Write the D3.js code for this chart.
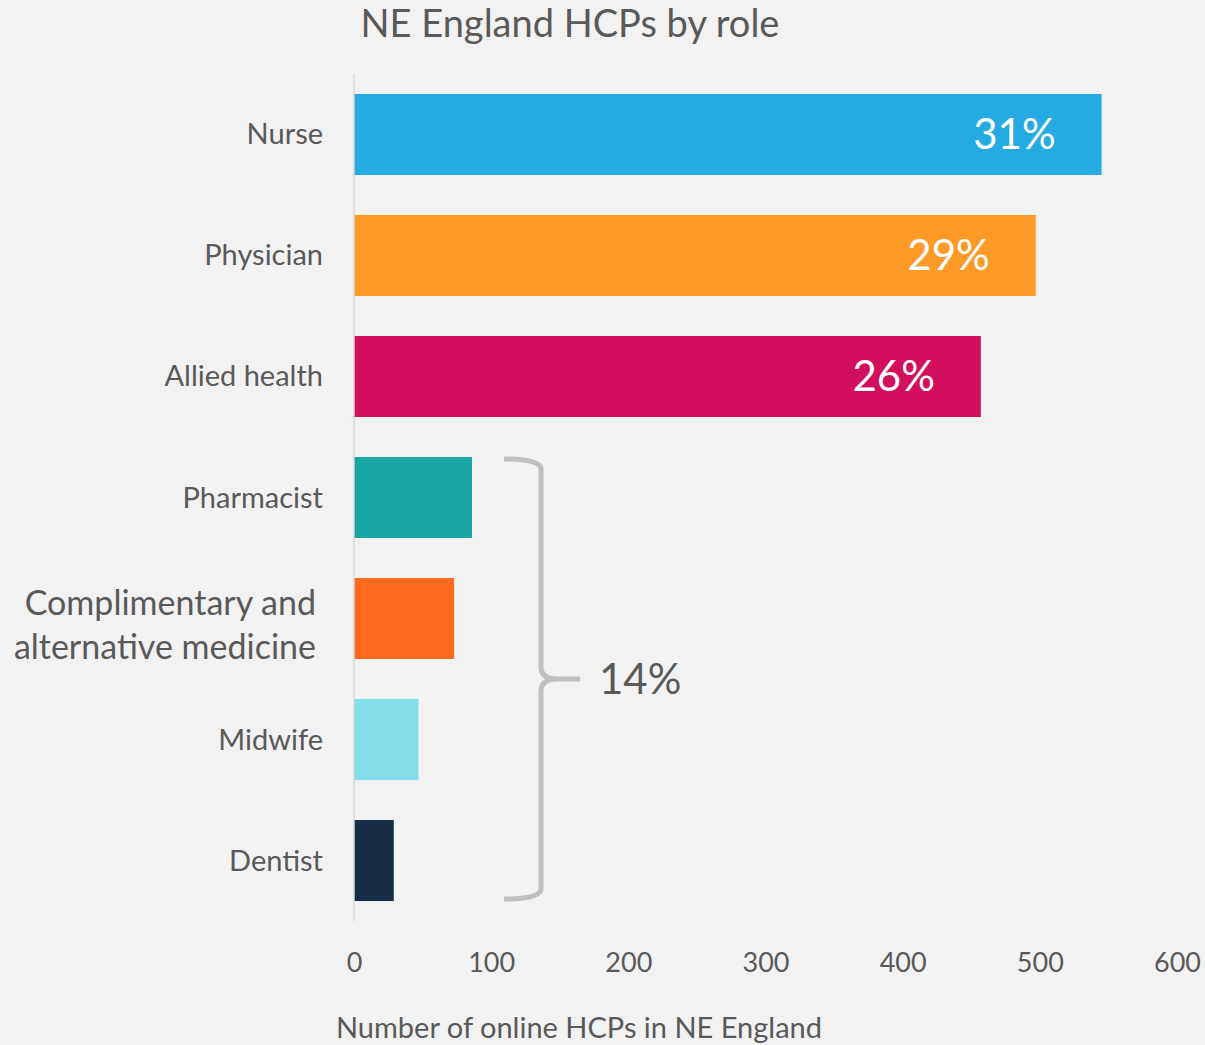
<!DOCTYPE html>
<html>
<head>
<meta charset="utf-8">
<script src="https://cdn.jsdelivr.net/npm/d3@7"></script>
<style>
  html, body { margin: 0; padding: 0; background: #f2f2f2; }
  svg { display: block; font-family: Lato, "Open Sans", sans-serif; }
</style>
</head>
<body>
<svg id="chart" width="1205" height="1045"></svg>
<script>
// Roles, counts of online HCPs and their shares
const roles = ["Nurse", "Physician", "Allied health", "Pharmacist",
  "Complimentary and alternative medicine", "Midwife", "Dentist"];
const counts = [545, 497, 457, 86, 73, 47, 29];
const colors = ["#25aae1", "#fd9a28", "#d10f5d", "#1aa5a5", "#ff6a21", "#84dfeb", "#172d45"];
const shareLabels = ["31%", "29%", "26%", null, null, null, null];
const groupLabel = "14%";
const xTicks = [0, 100, 200, 300, 400, 500, 600];

const svg = d3.select("#chart");
const m = { left: 354, right: 1177, top: 74, bottom: 921 };

const x = d3.scaleLinear().domain([0, 600]).range([m.left, m.right]);
const y = d3.scaleBand().domain(roles).range([m.top, m.bottom])
  .paddingInner(40 / 121).paddingOuter(0.165);

const textCol = "#595959";

// Title
svg.append("text")
  .attr("x", 570).attr("y", 37)
  .attr("text-anchor", "middle")
  .attr("font-size", 38).attr("fill", textCol)
  .text("NE England HCPs by role");

// Bars
svg.selectAll("rect.bar").data(roles).join("rect")
  .attr("class", "bar")
  .attr("x", x(0))
  .attr("y", d => y(d))
  .attr("width", (d, i) => x(counts[i]) - x(0))
  .attr("height", y.bandwidth())
  .attr("fill", (d, i) => colors[i]);

// Share labels inside the top three bars
svg.selectAll("text.share").data(roles.filter((d, i) => shareLabels[i]))
  .join("text")
  .attr("class", "share")
  .attr("x", d => x(counts[roles.indexOf(d)]) - 46)
  .attr("y", d => y(d) + y.bandwidth() / 2 + 15)
  .attr("text-anchor", "end")
  .attr("font-size", 42).attr("fill", "#ffffff")
  .text(d => shareLabels[roles.indexOf(d)]);

// Vertical axis line
svg.append("line")
  .attr("x1", x(0)).attr("x2", x(0))
  .attr("y1", m.top).attr("y2", m.bottom)
  .attr("stroke", "#d9d9d9").attr("stroke-width", 1.5);

// Category labels
roles.forEach((r, i) => {
  const cy = y(r) + y.bandwidth() / 2;
  if (r.startsWith("Complimentary")) {
    const t = svg.append("text")
      .attr("text-anchor", "end").attr("font-size", 34).attr("fill", textCol);
    t.append("tspan").attr("x", 316).attr("y", cy - 4).text("Complimentary and");
    t.append("tspan").attr("x", 316).attr("y", cy + 40).text("alternative medicine");
  } else {
    svg.append("text")
      .attr("x", 323).attr("y", cy + 10)
      .attr("text-anchor", "end").attr("font-size", 29).attr("fill", textCol)
      .text(r);
  }
});

// X axis tick labels
const xAxis = d3.axisBottom(x).tickValues(xTicks).tickSize(0).tickPadding(0);
const gx = svg.append("g").attr("transform", "translate(0,945)").call(xAxis);
gx.select(".domain").remove();
gx.selectAll("text")
  .attr("font-family", "Lato, 'Open Sans', sans-serif")
  .attr("font-size", 27).attr("fill", textCol).attr("dy", "1em");

// X axis title
svg.append("text")
  .attr("x", 579).attr("y", 1038)
  .attr("text-anchor", "middle")
  .attr("font-size", 29).attr("fill", textCol)
  .text("Number of online HCPs in NE England");

// Curly bracket grouping the four smaller roles
const braceTop = y("Pharmacist"), braceBot = y("Dentist") + y.bandwidth();
const braceMid = (braceTop + braceBot) / 2;
const bx = 541, lx = 504, tipX = 580;
const p = d3.path();
p.moveTo(lx, braceTop + 2);
p.quadraticCurveTo(bx, braceTop + 2, bx, braceTop + 12);
p.lineTo(bx, braceMid - 12);
p.quadraticCurveTo(bx, braceMid, tipX - 22, braceMid);
p.lineTo(tipX, braceMid);
p.moveTo(tipX - 22, braceMid);
p.quadraticCurveTo(bx, braceMid, bx, braceMid + 12);
p.lineTo(bx, braceBot - 12);
p.quadraticCurveTo(bx, braceBot - 2, lx, braceBot - 2);
svg.append("path")
  .attr("d", p.toString())
  .attr("fill", "none").attr("stroke", "#bfbfbf").attr("stroke-width", 5);

svg.append("text")
  .attr("x", 599).attr("y", braceMid + 15)
  .attr("font-size", 42).attr("fill", textCol)
  .text(groupLabel);
</script>
</body>
</html>
